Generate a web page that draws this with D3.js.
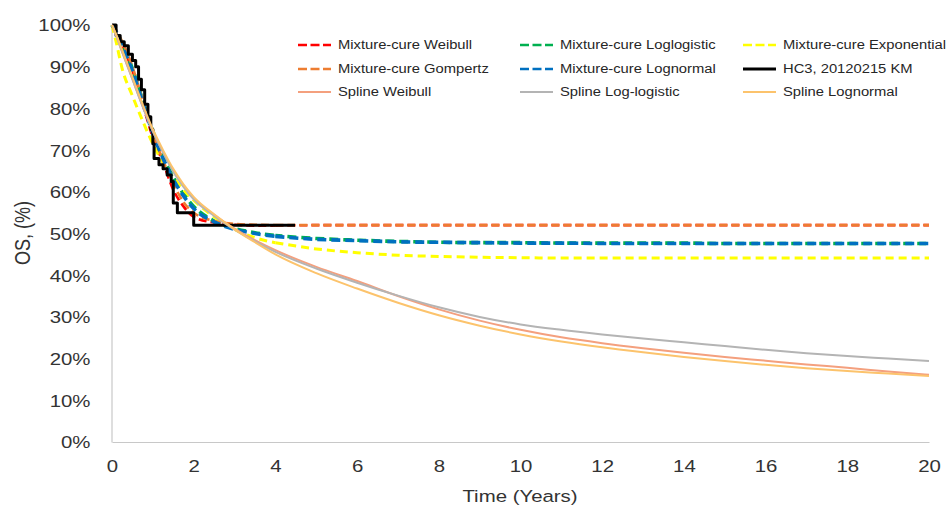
<!DOCTYPE html>
<html>
<head>
<meta charset="utf-8">
<script src="https://cdn.jsdelivr.net/npm/d3@7"></script>
<style>
  html, body { margin: 0; padding: 0; background: #fff; }
  svg { display: block; font-family: "Liberation Sans", Arial, sans-serif; }
</style>
</head>
<body>
<svg id="chart" width="946" height="506"></svg>
<script>
// Overall survival (%) by time (years)
const xTicks = [0, 2, 4, 6, 8, 10, 12, 14, 16, 18, 20];
const yTicks = [0, 10, 20, 30, 40, 50, 60, 70, 80, 90, 100];

const tGrid = [0, 0.1, 0.25, 0.5, 0.75, 1, 1.25, 1.5, 1.75, 2, 2.5, 3, 3.5, 4, 5, 6, 7, 8, 9, 10, 11, 12, 13, 14, 15, 16, 17, 18, 19, 20];

const mcWeibull      = [100, 98.5, 95, 89, 81, 73, 67, 60.5, 56.5, 54, 52.6, 52.1, 51.9, 51.9, 52, 52, 52, 52, 52, 52, 52, 52, 52, 52, 52, 52, 52, 52, 52, 52];
const mcLoglogistic  = [100, 98.5, 95.5, 89.5, 82, 74.5, 68.5, 63.5, 59.5, 56.5, 53, 51.2, 50.2, 49.5, 48.8, 48.4, 48.1, 47.9, 47.8, 47.8, 47.7, 47.7, 47.7, 47.7, 47.6, 47.6, 47.6, 47.6, 47.6, 47.6];
const mcExponential  = [100, 96, 89.5, 83, 77, 71.5, 67, 63.5, 60.5, 58, 54, 51, 49, 47.8, 46.3, 45.4, 44.8, 44.5, 44.3, 44.2, 44.1, 44.1, 44.1, 44.1, 44.1, 44.1, 44.1, 44.1, 44.1, 44.1];
const mcGompertz     = [100, 98.8, 96, 90, 82, 74, 67.5, 62, 57.5, 55, 53, 52.3, 52.1, 52, 52, 52, 52, 52, 52, 52, 52, 52, 52, 52, 52, 52, 52, 52, 52, 52];
const mcLognormal    = [100, 98.5, 95, 89, 81.5, 74, 68, 63, 59, 56, 52.8, 51, 50, 49.3, 48.6, 48.3, 48, 47.9, 47.8, 47.7, 47.7, 47.6, 47.6, 47.6, 47.6, 47.6, 47.6, 47.6, 47.6, 47.6];
const splWeibull     = [100, 97.5, 93.5, 87, 80.5, 74.5, 69.5, 65, 61.5, 58.5, 54.5, 51.2, 48.4, 46, 42, 38.6, 35, 31.8, 29.1, 26.9, 25.1, 23.7, 22.5, 21.4, 20.4, 19.5, 18.6, 17.8, 16.9, 16.1];
const splLoglogistic = [100, 97.5, 93.5, 87, 80.5, 74.5, 69.5, 64.8, 61.2, 58.2, 54.2, 50.9, 48.1, 45.6, 41.6, 38.2, 35.1, 32.3, 30, 28.2, 26.9, 25.8, 24.8, 23.9, 23, 22.1, 21.3, 20.6, 20, 19.4];
const splLognormal   = [100, 97.8, 94, 87.5, 81, 75, 70, 65.5, 61.8, 58.8, 54.6, 51, 47.9, 45, 40.5, 36.8, 33.4, 30.4, 27.9, 25.8, 24.1, 22.7, 21.5, 20.4, 19.4, 18.5, 17.7, 17, 16.4, 15.8];

// Kaplan-Meier estimate (step function)
const kmTimes = [0, 0.1, 0.2, 0.3, 0.4, 0.5, 0.58, 0.65, 0.72, 0.8, 0.88, 0.95, 1.0, 1.03, 1.15, 1.25, 1.35, 1.45, 1.5, 1.6, 2.0, 4.48];
const kmSurv  = [100, 97.5, 96, 95, 93, 91.5, 90, 87, 84.5, 81, 78, 75, 71.5, 68, 66.5, 65.5, 64, 62.5, 57.3, 55, 52, 52];

const seriesNames = ["Mixture-cure Weibull", "Mixture-cure Loglogistic", "Mixture-cure Exponential",
                     "Mixture-cure Gompertz", "Mixture-cure Lognormal", "HC3, 20120215 KM",
                     "Spline Weibull", "Spline Log-logistic", "Spline Lognormal"];
const seriesValues = [mcWeibull, mcLoglogistic, mcExponential, mcGompertz, mcLognormal, null,
                      splWeibull, splLoglogistic, splLognormal];
const seriesColors = ["#ff0000", "#00b050", "#ffff00", "#ed7d31", "#0070c0", "#000000",
                      "#f4a07e", "#b4b4b4", "#fcc36c"];
const seriesDash   = ["8,4", "9,5", "8,5", "8,4", "9,5", null, null, null, null];
const seriesDashOffset = [0, 2, 0, 0, 0, 0, 0, 0, 0];
const seriesWidth  = [2.6, 3.6, 3, 2.6, 3.6, 3, 2, 2, 2];

const svg = d3.select("#chart");
svg.append("rect").attr("width", 946).attr("height", 506).attr("fill", "#fff");

const x = d3.scaleLinear().domain([0, 20]).range([112, 929]);
const y = d3.scaleLinear().domain([0, 100]).range([442, 25]);
const SX = 1.2; // horizontal text stretch

// axes
const gx = svg.append("g").attr("transform", `translate(0,${y(0)})`)
  .call(d3.axisBottom(x).tickValues(xTicks).tickSize(0).tickSizeOuter(0));
gx.select(".domain").attr("stroke", "#c8c8c8").attr("stroke-width", 1.2);
gx.selectAll("text")
  .attr("y", 0).attr("dy", "0.35em")
  .attr("transform", `translate(0,24) scale(${SX},1)`)
  .attr("font-size", 17).attr("fill", "#333")
  .style("font-family", "'Liberation Sans', Arial, sans-serif");

const gy = svg.append("g").attr("transform", `translate(${x(0) - 0.5},0)`)
  .call(d3.axisLeft(y).tickValues(yTicks).tickFormat(d => d + "%").tickSize(0).tickSizeOuter(0));
gy.select(".domain").attr("stroke", "#c8c8c8").attr("stroke-width", 1.2);
gy.selectAll("text")
  .attr("x", 0).attr("dy", "0.35em")
  .attr("text-anchor", "end")
  .attr("transform", `translate(-21,0) scale(${SX},1)`)
  .attr("font-size", 17).attr("fill", "#333")
  .style("font-family", "'Liberation Sans', Arial, sans-serif");

// axis titles
svg.append("text")
  .attr("transform", `translate(520,502) scale(${SX},1)`)
  .attr("text-anchor", "middle").attr("font-size", 17).attr("fill", "#333")
  .text("Time (Years)");
svg.append("text")
  .attr("transform", `translate(30,233) scale(${SX},1) rotate(-90)`)
  .attr("text-anchor", "middle").attr("font-size", 18).attr("fill", "#333")
  .text("OS, (%)");

// curves
const plot = svg.append("g");
const smooth = d3.line().x(d => x(d[0])).y(d => y(d[1])).curve(d3.curveMonotoneX);
const step = d3.line().x(d => x(d[0])).y(d => y(d[1])).curve(d3.curveStepAfter);

// dashed curves are drawn as an early and a late piece (split at year 4)
// so that the dash rhythm of the plateaus starts at the same point
const SPLIT_T = 4;

seriesNames.forEach((name, i) => {
  const styled = sel => sel.attr("fill", "none")
    .attr("stroke", seriesColors[i])
    .attr("stroke-width", seriesWidth[i])
    .attr("stroke-dasharray", seriesDash[i])
    .attr("stroke-dashoffset", seriesDashOffset[i])
    .attr("stroke-linejoin", "round");
  if (seriesValues[i]) {
    const pts = tGrid.map((t, k) => [t, seriesValues[i][k]]);
    if (seriesDash[i]) {
      styled(plot.append("path").attr("d", smooth(pts.filter(p => p[0] <= SPLIT_T))));
      styled(plot.append("path").attr("d", smooth(pts.filter(p => p[0] >= SPLIT_T))));
    } else {
      styled(plot.append("path").attr("d", smooth(pts)));
    }
  } else {
    const pts = kmTimes.map((t, k) => [t, kmSurv[k]]);
    styled(plot.append("path").attr("d", step(pts)));
  }
});

// legend: three columns, three rows
const legCols = [298, 520, 743];
const legRows = [45, 69, 92];
const legend = svg.append("g");
seriesNames.forEach((name, i) => {
  const lx = legCols[i % 3], ly = legRows[Math.floor(i / 3)];
  legend.append("line")
    .attr("x1", lx).attr("x2", lx + 33).attr("y1", ly).attr("y2", ly)
    .attr("stroke", seriesColors[i])
    .attr("stroke-width", seriesDash[i] ? 2.6 : (i === 5 ? 3 : 2))
    .attr("stroke-dasharray", seriesDash[i] ? "9,3.5" : null);
  legend.append("text")
    .attr("transform", `translate(${lx + 40},${ly}) scale(1.23,1)`)
    .attr("dy", "0.35em").attr("font-size", 12).attr("fill", "#262626")
    .text(name);
});
</script>
</body>
</html>
